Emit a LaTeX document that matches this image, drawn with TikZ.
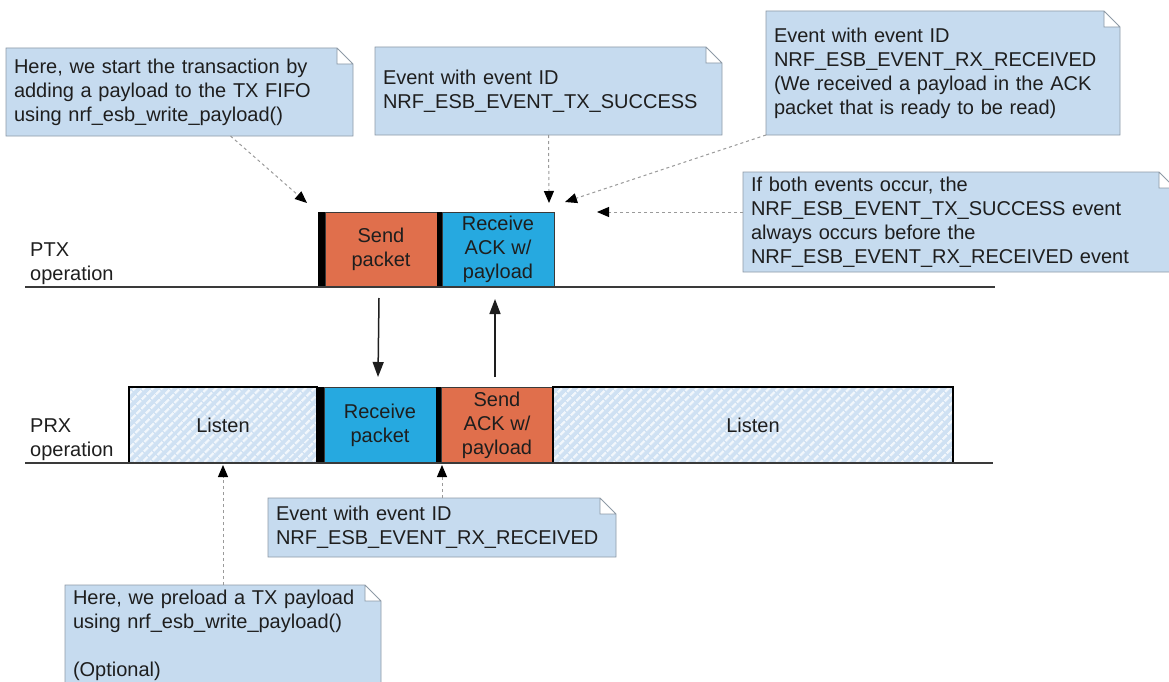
\documentclass[tikz,border=0pt]{standalone}
\usepackage{fontspec}
\setmainfont{Liberation Sans}
\usetikzlibrary{arrows.meta,patterns.meta}

\definecolor{notefill}{HTML}{C6DBEF}
\definecolor{noteline}{HTML}{8E9AA6}
\definecolor{sendcol}{HTML}{E06F4C}
\definecolor{recvcol}{HTML}{26A9E0}
\definecolor{listenfill}{HTML}{CFE1F3}
\definecolor{listenstripe}{HTML}{F2F7FC}
\definecolor{inkcol}{HTML}{1E1E1E}
\definecolor{axiscol}{HTML}{3A3A3A}
\definecolor{evline}{HTML}{9A9A9A}

% Rectangle with a folded top-right corner (memo note)
\makeatletter
\pgfdeclareshape{dognote}{
  \inheritsavedanchors[from=rectangle]
  \inheritanchorborder[from=rectangle]
  \inheritanchor[from=rectangle]{center}
  \inheritanchor[from=rectangle]{north}
  \inheritanchor[from=rectangle]{south}
  \inheritanchor[from=rectangle]{east}
  \inheritanchor[from=rectangle]{west}
  \inheritanchor[from=rectangle]{north east}
  \inheritanchor[from=rectangle]{north west}
  \inheritanchor[from=rectangle]{south east}
  \inheritanchor[from=rectangle]{south west}
  \backgroundpath{
    \southwest \pgf@xa=\pgf@x \pgf@ya=\pgf@y
    \northeast \pgf@xb=\pgf@x \pgf@yb=\pgf@y
    \pgf@xc=\pgf@xb \advance\pgf@xc by -16pt
    \pgf@yc=\pgf@yb \advance\pgf@yc by -16pt
    \pgfpathmoveto{\pgfqpoint{\pgf@xa}{\pgf@ya}}
    \pgfpathlineto{\pgfqpoint{\pgf@xa}{\pgf@yb}}
    \pgfpathlineto{\pgfqpoint{\pgf@xc}{\pgf@yb}}
    \pgfpathlineto{\pgfqpoint{\pgf@xb}{\pgf@yc}}
    \pgfpathlineto{\pgfqpoint{\pgf@xb}{\pgf@ya}}
    \pgfpathclose
    \pgfpathmoveto{\pgfqpoint{\pgf@xc}{\pgf@yb}}
    \pgfpathlineto{\pgfqpoint{\pgf@xc}{\pgf@yc}}
    \pgfpathlineto{\pgfqpoint{\pgf@xb}{\pgf@yc}}
  }
}
\makeatother

\begin{document}
\begin{tikzpicture}[
  x=1pt, y=-1pt,
  font=\fontsize{20}{24}\selectfont,
  note/.style={shape=dognote, fill=notefill, draw=noteline, line width=0.9pt,
    anchor=north west, inner xsep=8pt, inner ysep=0pt, outer sep=0pt,
    align=left, text=inkcol},
  blk/.style={draw=axiscol, line width=0.9pt, anchor=north west,
    inner sep=0pt, outer sep=0pt, align=center, text=inkcol},
  sepbar/.style={fill=black, draw=none, anchor=north west,
    inner sep=0pt, outer sep=0pt},
  listen/.style={blk, draw=black, line width=1.2pt,
    preaction={fill=listenfill},
    pattern={Lines[angle=45,distance=6.5pt,line width=2.4pt]},
    pattern color=listenstripe},
  axis/.style={draw=axiscol, line width=1.4pt},
  evarrow/.style={draw=evline, line width=1pt, dash pattern=on 3pt off 3pt,
    -{Triangle[length=12pt,width=10pt,color=black]}},
  flow/.style={draw=inkcol, line width=1.5pt,
    -{Triangle[length=15pt,width=11pt]}},
  lbl/.style={anchor=north west, inner sep=0pt, align=left, text=inkcol}
]
\useasboundingbox (0,0) rectangle (1169,682);
\clip (0,0) rectangle (1169,682);

% ---- PTX timeline
\node[lbl] (ptxlbl) at (30,243) {PTX\\operation};
\node[sepbar, minimum width=7pt, minimum height=75pt] (bar1) at (318,212) {};
\node[blk, fill=sendcol, minimum width=112pt, minimum height=75pt] (sendpkt) at (325,212) {Send\\packet};
\node[sepbar, minimum width=5pt, minimum height=75pt] (bar2) at (437,212) {};
\node[blk, fill=recvcol, minimum width=112pt, minimum height=75pt] (rxack) at (442,212) {Receive\\ACK w/\\payload};
\draw[axis] (25,287) -- (995,287);

% ---- PRX timeline
\node[lbl] (prxlbl) at (30,419) {PRX\\operation};
\node[listen, minimum width=188pt, minimum height=76pt] (listen1) at (129,387) {Listen};
\node[sepbar, minimum width=6pt, minimum height=76pt] (bar3) at (318,387) {};
\node[blk, fill=recvcol, minimum width=112pt, minimum height=76pt] (rxpkt) at (324,387) {Receive\\packet};
\node[sepbar, minimum width=5pt, minimum height=76pt] (bar4) at (436,387) {};
\node[blk, fill=sendcol, minimum width=112pt, minimum height=76pt] (sendack) at (441,387) {Send\\ACK w/\\payload};
\node[listen, minimum width=400pt, minimum height=76pt] (listen2) at (553,387) {Listen};
\draw[axis] (25,463) -- (993,463);

% ---- radio traffic between the two sides
\draw[flow] ([xshift=-2pt,yshift=-11pt]sendpkt.south) -- ([xshift=-2pt,yshift=10pt]rxpkt.north);
\draw[flow] ([xshift=-2pt,yshift=10pt]sendack.north) -- ([xshift=-3pt,yshift=-12pt]rxack.south);

% ---- notes
\node[note, text width=331pt, minimum height=88pt] (n1) at (6,48)
  {Here, we start the transaction by\\adding a payload to the TX FIFO\\using nrf\_esb\_write\_payload()};
\node[note, text width=331pt, minimum height=88pt] (n2) at (375,47)
  {Event with event ID\\NRF\_ESB\_EVENT\_TX\_SUCCESS};
\node[note, text width=338pt, minimum height=124pt] (n3) at (766,11)
  {Event with event ID\\NRF\_ESB\_EVENT\_RX\_RECEIVED\\(We received a payload in the ACK\\packet that is ready to be read)};
\node[note, text width=416pt, minimum height=100pt] (n4) at (743,172)
  {If both events occur, the\\NRF\_ESB\_EVENT\_TX\_SUCCESS event\\always occurs before the\\NRF\_ESB\_EVENT\_RX\_RECEIVED event};
\node[note, text width=332pt, minimum height=59pt] (n5) at (268,498)
  {Event with event ID\\NRF\_ESB\_EVENT\_RX\_RECEIVED};
\node[note, text width=300pt, minimum height=100pt] (n6) at (65,585)
  {Here, we preload a TX payload\\using nrf\_esb\_write\_payload()\\\mbox{}\\(Optional)};

% ---- event pointers
\coordinate (t1) at (307,203);
\coordinate (t2) at (549,203);
\coordinate (t3) at (565,202);
\coordinate (t4) at (597,212);
\coordinate (t5) at (442,465);
\coordinate (t6) at (223,465);
\draw[evarrow] ([xshift=51pt]n1.south) -- (t1);
\draw[evarrow] (n2.south) -- (t2);
\draw[evarrow] (n3.south west) -- (t3);
\draw[evarrow] ([yshift=10pt]n4.west) -- (t4);
\draw[evarrow] (n5.north) -- (t5);
\draw[evarrow] (n6.north) -- (t6);
\end{tikzpicture}
\end{document}
